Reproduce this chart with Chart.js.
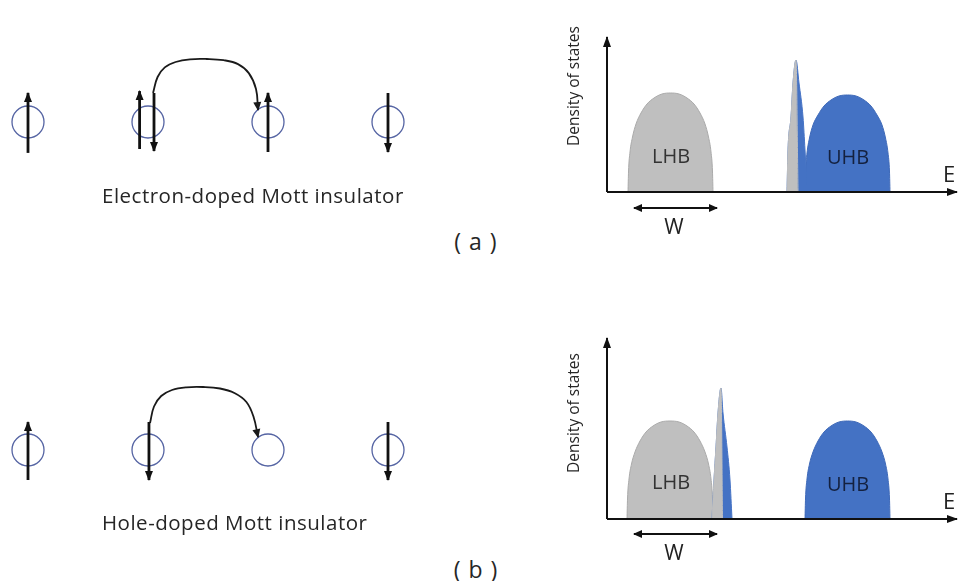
<!DOCTYPE html>
<html>
<head>
<meta charset="utf-8">
<script src="https://cdn.jsdelivr.net/npm/chart.js@4.4.1/dist/chart.umd.min.js"></script>
<style>
  html, body { margin: 0; padding: 0; background: #fff; }
  #page { position: relative; width: 960px; height: 581px; overflow: hidden; font-family: 'Open Sans', sans-serif; color: #262626; }
  .box { position: absolute; }
  .cap { position: absolute; white-space: nowrap; transform: translate(0, -50%); font-size: 20.5px; letter-spacing: 0.5px; }
  .tag { position: absolute; white-space: nowrap; transform: translate(-50%, -50%); font-size: 23px; letter-spacing: 1px; }
</style>
</head>
<body>
<div id="page">
  <div class="box" style="left:0;top:32px;"><canvas id="spinA" width="416" height="150"></canvas></div>
  <div class="box" style="left:0;top:360px;"><canvas id="spinB" width="416" height="150"></canvas></div>
  <div class="box" style="left:555px;top:20px;"><canvas id="dosA" width="405" height="230"></canvas></div>
  <div class="box" style="left:555px;top:330px;"><canvas id="dosB" width="405" height="251"></canvas></div>
  <div class="cap" style="left:102px;top:195px;">Electron-doped Mott insulator</div>
  <div class="cap" style="left:102px;top:522px;">Hole-doped Mott insulator</div>
  <div class="tag" style="left:476px;top:241px;">( a )</div>
  <div class="tag" style="left:476px;top:569px;">( b )</div>
</div>
<script>
// lattice sites (in site units)
const sites = [0, 1, 2, 3];

// (a) electron doped: spin arrows
const elArrowX = [0, 0.93, 1.05, 2, 3];
const elArrowFrom = [-1.03, -0.9, 0.97, -1, 0.97];
const elArrowTo = [0.97, 1.03, -0.97, 0.97, -1];
const elHopX = [1.042, 1.08, 1.14, 1.23, 1.35, 1.49, 1.63, 1.75, 1.84, 1.9, 1.917];
const elHopY = [0.97, 1.5, 1.82, 2.0, 2.09, 2.1, 2.06, 1.93, 1.63, 1.1, 0.4];

// (b) hole doped: spin arrows
const hoArrowX = [0, 1.008, 3];
const hoArrowFrom = [-1, 0.93, 0.93];
const hoArrowTo = [0.93, -1, -1];
const hoHopX = [1.017, 1.05, 1.11, 1.2, 1.32, 1.46, 1.6, 1.72, 1.82, 1.88, 1.917];
const hoHopY = [0.9, 1.45, 1.8, 2.0, 2.09, 2.1, 2.05, 1.9, 1.6, 1.1, 0.43];

// density of states, (a)
const aLhbE = [21, 21.5, 23, 25.5, 29, 34, 40, 47, 55, 63.5, 72, 80, 87, 93, 98, 101.5, 104, 105.5, 106];
const aLhbD = [0, 20, 40, 55, 68, 79, 88, 94, 98, 99, 98, 94, 88, 79, 68, 55, 40, 20, 0];
const aSpikeGrayE = [180, 181, 184, 186, 189, 191];
const aSpikeGrayD = [0, 42, 75, 109, 132, 0];
const aSpikeBlueE = [180, 181, 184, 186, 189, 192, 196, 198, 200];
const aSpikeBlueD = [0, 42, 75, 109, 132, 109, 75, 42, 5];
const aUhbE = [198, 198.5, 200, 202.5, 206, 211, 217, 224, 232, 240.5, 249, 257, 264, 270, 275, 278.5, 281, 282.5, 283];
const aUhbD = [0, 20, 39, 54, 67, 77, 86, 92, 96, 97, 96, 92, 86, 77, 67, 54, 39, 20, 0];

// density of states, (b)
const bLhbE = [20, 20.5, 22, 24.5, 28, 33, 39, 46, 54, 63, 72, 80, 87, 93, 98, 101.5, 104, 105.5, 106];
const bLhbD = [0, 20, 40, 55, 67, 78, 87, 93, 97, 98, 97, 93, 87, 78, 67, 55, 40, 20, 0];
const bSpikeGrayE = [105, 107, 109, 111, 114, 115.5];
const bSpikeGrayD = [0, 39, 72, 106, 131, 0];
const bSpikeBlueE = [105, 107, 109, 111, 114, 116, 120, 123, 125];
const bSpikeBlueD = [0, 39, 72, 106, 131, 106, 72, 39, 0];
const bUhbE = [198, 198.5, 200, 202.5, 206, 211, 217, 224, 232, 240.5, 249, 257, 264, 270, 275, 278.5, 281, 282.5, 283];
const bUhbD = [0, 20, 40, 55, 67, 78, 87, 93, 97, 98, 97, 93, 87, 78, 67, 55, 40, 20, 0];

const wSpan = [27, 110];

const GRAY = '#bfbfbf';
const BLUE = '#4472c4';

function xy(xs, ys) { return xs.map(function(x, i) { return { x: x, y: ys[i] }; }); }

function drawHead(ctx, ax, ay, bx, by, len, wid, color) {
  const ang = Math.atan2(by - ay, bx - ax);
  ctx.save();
  ctx.translate(bx, by);
  ctx.rotate(ang);
  ctx.fillStyle = color;
  ctx.beginPath();
  ctx.moveTo(1, 0);
  ctx.lineTo(1 - len, -wid / 2);
  ctx.lineTo(1 - len, wid / 2);
  ctx.closePath();
  ctx.fill();
  ctx.restore();
}

const arrowHeads = {
  id: 'arrowHeads',
  afterDatasetsDraw(chart) {
    const ctx = chart.ctx;
    chart.data.datasets.forEach(function(ds, i) {
      if (!ds.head) return;
      const p = chart.getDatasetMeta(i).data;
      const n = p.length;
      drawHead(ctx, p[n - 2].x, p[n - 2].y, p[n - 1].x, p[n - 1].y, ds.head, ds.headW, ds.borderColor);
      if (ds.bothEnds) drawHead(ctx, p[1].x, p[1].y, p[0].x, p[0].y, ds.head, ds.headW, ds.borderColor);
    });
  }
};

const textLabels = {
  id: 'textLabels',
  afterDraw(chart) {
    const list = chart.options.plugins.textLabels.items || [];
    const ctx = chart.ctx;
    const sx = chart.scales.x, sy = chart.scales.y;
    list.forEach(function(t) {
      ctx.save();
      ctx.translate(sx.getPixelForValue(t.x), sy.getPixelForValue(t.y));
      if (t.rotate) ctx.rotate(t.rotate);
      ctx.font = t.font;
      ctx.fillStyle = t.color;
      ctx.textAlign = 'center';
      ctx.textBaseline = 'middle';
      ctx.fillText(t.text, 0, 0);
      ctx.restore();
    });
  }
};

function baseOptions(xmin, xmax, ymin, ymax) {
  return {
    responsive: false,
    animation: false,
    devicePixelRatio: 1,
    layout: { padding: 0, autoPadding: false },
    plugins: { legend: { display: false }, tooltip: { enabled: false }, textLabels: { items: [] } },
    scales: {
      x: { type: 'linear', min: xmin, max: xmax, display: false },
      y: { type: 'linear', min: ymin, max: ymax, display: false }
    }
  };
}

function spinChart(id, arrX, arrFrom, arrTo, hopX, hopY) {
  const datasets = [];
  arrX.forEach(function(x, i) {
    datasets.push({
      data: [{ x: x, y: arrFrom[i] }, { x: x, y: arrTo[i] }],
      borderColor: '#111', borderWidth: 2.8, pointRadius: 0, clip: false,
      head: 10, headW: 8, order: 0
    });
  });
  datasets.push({
    data: xy(hopX, hopY),
    borderColor: '#1a1a1a', borderWidth: 1.8, pointRadius: 0, clip: false,
    tension: 0.4, head: 9, headW: 8, order: 0
  });
  datasets.push({
    data: sites.map(function(s) { return { x: s, y: 0 }; }),
    showLine: false, pointRadius: 16, pointBorderWidth: 1.3,
    pointBorderColor: '#5564a3', pointBackgroundColor: 'rgba(0,0,0,0)', clip: false, order: 10
  });
  return new Chart(document.getElementById(id), {
    type: 'line',
    data: { datasets: datasets },
    options: baseOptions(-28 / 120, 388 / 120, -2, 3),
    plugins: [arrowHeads]
  });
}

function band(xs, ys, color, border, order) {
  return {
    data: xy(xs, ys), fill: 'origin', backgroundColor: color, borderColor: border,
    borderWidth: 1, pointRadius: 0, cubicInterpolationMode: 'monotone', order: order
  };
}

function dosChart(id, ymin, ymax, yTop, lhb, sg, sb, uhb, lbl) {
  const datasets = [
    { data: [{ x: 0, y: 0 }, { x: 350, y: 0 }], borderColor: '#111', borderWidth: 2, pointRadius: 0, clip: false, head: 11, headW: 8, order: -1 },
    { data: [{ x: 0, y: 0 }, { x: 0, y: yTop }], borderColor: '#111', borderWidth: 2, pointRadius: 0, clip: false, head: 11, headW: 8, order: -1 },
    { data: [{ x: wSpan[0], y: lbl.wY }, { x: wSpan[1], y: lbl.wY }], borderColor: '#111', borderWidth: 1.8, pointRadius: 0, clip: false, head: 9, headW: 8, bothEnds: true, order: -1 },
    band(lhb[0], lhb[1], GRAY, '#aaaaaa', 4),
    band(sg[0], sg[1], GRAY, GRAY, 1),
    band(sb[0], sb[1], BLUE, BLUE, 2),
    band(uhb[0], uhb[1], BLUE, '#3e69b8', 3)
  ];
  const opts = baseOptions(-52, 353, ymin, ymax);
  opts.plugins.textLabels.items = [
    { text: 'Density of states', x: -32, y: 106, rotate: -Math.PI / 2, font: '15.5px "Open Sans"', color: '#262626' },
    { text: 'LHB', x: 64, y: lbl.lhbY, font: '20px "Open Sans"', color: '#333' },
    { text: 'UHB', x: 241, y: lbl.uhbY, font: '20px "Open Sans"', color: '#14213f' },
    { text: 'E', x: 342, y: 16, font: '22px "Open Sans"', color: '#222' },
    { text: 'W', x: 67, y: lbl.wY - 20, font: '21px "Open Sans"', color: '#222' }
  ];
  return new Chart(document.getElementById(id), {
    type: 'line',
    data: { datasets: datasets },
    options: opts,
    plugins: [arrowHeads, textLabels]
  });
}

spinChart('spinA', elArrowX, elArrowFrom, elArrowTo, elHopX, elHopY);
spinChart('spinB', hoArrowX, hoArrowFrom, hoArrowTo, hoHopX, hoHopY);
dosChart('dosA', -58, 172, 155, [aLhbE, aLhbD], [aSpikeGrayE, aSpikeGrayD], [aSpikeBlueE, aSpikeBlueD], [aUhbE, aUhbD], { lhbY: 35, uhbY: 34, wY: -16 });
dosChart('dosB', -62, 189, 181, [bLhbE, bLhbD], [bSpikeGrayE, bSpikeGrayD], [bSpikeBlueE, bSpikeBlueD], [bUhbE, bUhbD], { lhbY: 36, uhbY: 34, wY: -15 });
</script>
</body>
</html>
